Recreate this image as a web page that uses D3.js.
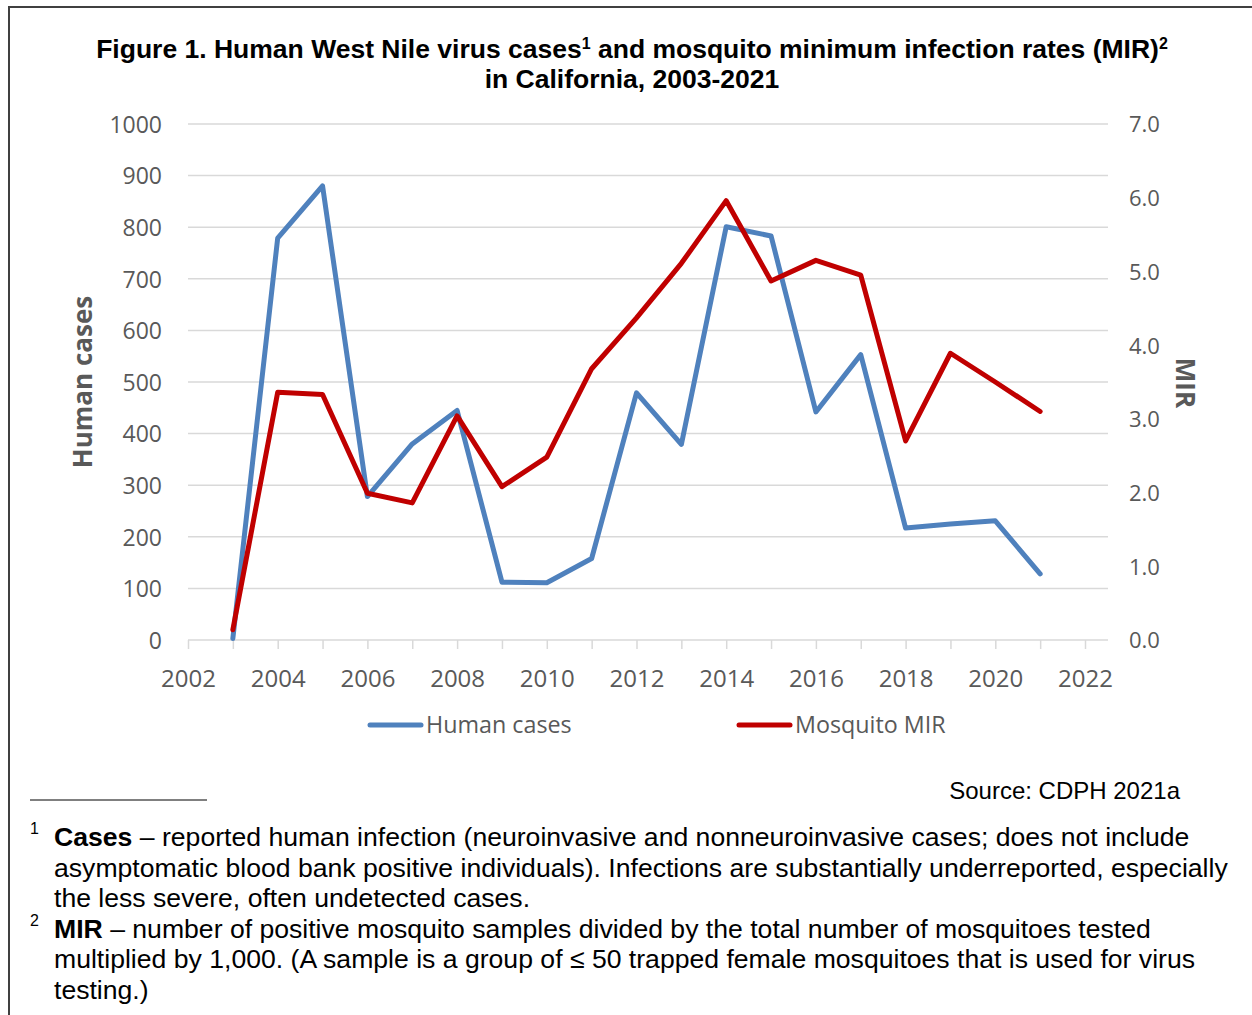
<!DOCTYPE html>
<html><head><meta charset="utf-8">
<script src="https://cdn.jsdelivr.net/npm/d3@7"></script>
<style>body{margin:0;background:#fff;} svg{display:block;}</style>
</head><body>
<script>
const years = [2003,2004,2005,2006,2007,2008,2009,2010,2011,2012,2013,2014,2015,2016,2017,2018,2019,2020,2021];
const humanCases = [3,779,880,278,380,445,112,111,158,479,379,801,783,442,553,217,225,231,128];
const mosquitoMIR = [0.14,3.36,3.33,1.99,1.86,3.04,2.08,2.48,3.68,4.37,5.11,5.96,4.87,5.15,4.95,2.70,3.89,3.50,3.10];
const leftTicks = [0,100,200,300,400,500,600,700,800,900,1000];
const rightTicks = [0,1,2,3,4,5,6,7];
const xTicks = [2002,2004,2006,2008,2010,2012,2014,2016,2018,2020,2022];
const seriesNames = ["Human cases","Mosquito MIR"];
const colors = ["#4F81BD","#C00000"];

const W=1252,H=1015;
const svg=d3.select("body").append("svg").attr("width",W).attr("height",H);
const gray="#595959";
const tickFont="'Open Sans', sans-serif";
const af="'Liberation Sans', Arial, sans-serif";

// frame
svg.append("path").attr("d","M9,1015 V7 H1252").attr("fill","none").attr("stroke","#404040").attr("stroke-width",2);

// title
const title=svg.append("text").attr("x",632).attr("y",58).attr("text-anchor","middle")
 .attr("font-family",af).attr("font-weight","bold").attr("font-size",26.5).attr("fill","#000");
title.append("tspan").text("Figure 1. Human West Nile virus cases");
title.append("tspan").attr("font-size",16).attr("dy",-9).text("1");
title.append("tspan").attr("dy",9).text(" and mosquito minimum infection rates (MIR)");
title.append("tspan").attr("font-size",16).attr("dy",-9).text("2");
svg.append("text").attr("x",632).attr("y",88).attr("text-anchor","middle")
 .attr("font-family",af).attr("font-weight","bold").attr("font-size",26.5).text("in California, 2003-2021");

const x=d3.scaleLinear().domain([2002,2022]).range([188,1085]);
const yL=d3.scaleLinear().domain([0,1000]).range([640,124]);
const yR=d3.scaleLinear().domain([0,7]).range([640,124]);

// gridlines
svg.append("g").selectAll("line").data(leftTicks).join("line")
 .attr("x1",188).attr("x2",1108).attr("y1",d=>yL(d)).attr("y2",d=>yL(d))
 .attr("stroke","#d9d9d9").attr("stroke-width",1.5);

// x axis
const xAxis=svg.append("g").attr("transform","translate(0,640)")
 .call(d3.axisBottom(x).tickValues(d3.range(2002,2023)).tickSize(9).tickFormat(d=>xTicks.includes(d)?d:""));
xAxis.select(".domain").remove();
xAxis.selectAll(".tick line").attr("stroke","#d9d9d9").attr("stroke-width",1.5);
xAxis.selectAll(".tick text").attr("font-family",tickFont).attr("font-size",24).attr("fill",gray).attr("dy",0).attr("y",47);

// left axis
const lAxis=svg.append("g").attr("transform","translate(162,0)")
 .call(d3.axisLeft(yL).tickValues(leftTicks).tickSize(0).tickPadding(0).tickFormat(d3.format("d")));
lAxis.select(".domain").remove();
lAxis.selectAll(".tick text").attr("font-family",tickFont).attr("font-size",23).attr("fill",gray).attr("dy","0.36em");

// right axis
const rAxis=svg.append("g").attr("transform","translate(1129,0)")
 .call(d3.axisRight(yR).tickValues(rightTicks).tickSize(0).tickPadding(0).tickFormat(d3.format(".1f")));
rAxis.select(".domain").remove();
rAxis.selectAll(".tick text").attr("font-family",tickFont).attr("font-size",22).attr("fill",gray).attr("dy","0.36em");

// axis titles
svg.append("text").attr("transform","translate(92,382) rotate(-90)").attr("text-anchor","middle")
 .attr("font-family",tickFont).attr("font-weight","bold").attr("font-size",26).attr("fill",gray).text("Human cases");
svg.append("text").attr("transform","translate(1176,383) rotate(90)").attr("text-anchor","middle")
 .attr("font-family",tickFont).attr("font-weight","bold").attr("font-size",26).attr("fill",gray).text("MIR");

// lines
const lineL=d3.line().x((d,i)=>x(years[i])).y(d=>yL(d));
const lineR=d3.line().x((d,i)=>x(years[i])).y(d=>yR(d));
svg.append("path").datum(humanCases).attr("d",lineL).attr("fill","none").attr("stroke",colors[0]).attr("stroke-width",5).attr("stroke-linejoin","round").attr("stroke-linecap","round");
svg.append("path").datum(mosquitoMIR).attr("d",lineR).attr("fill","none").attr("stroke",colors[1]).attr("stroke-width",5).attr("stroke-linejoin","round").attr("stroke-linecap","round");

// legend
const legX=[370,739];
seriesNames.forEach((n,i)=>{
  svg.append("line").attr("x1",legX[i]).attr("x2",legX[i]+51).attr("y1",725).attr("y2",725)
   .attr("stroke",colors[i]).attr("stroke-width",5).attr("stroke-linecap","round");
  svg.append("text").attr("x",legX[i]+56).attr("y",725).attr("dy","0.36em").attr("font-family",tickFont)
   .attr("font-size",23.3).attr("fill",gray).text(n);
});

// source and footnotes
svg.append("text").attr("x",1180).attr("y",799).attr("text-anchor","end").attr("font-family",af).attr("font-size",24).text("Source: CDPH 2021a");
svg.append("line").attr("x1",30).attr("x2",207).attr("y1",800).attr("y2",800).attr("stroke","#000").attr("stroke-width",1);

const fnLines=[
 {sup:"1",bold:"Cases",rest:" – reported human infection (neuroinvasive and nonneuroinvasive cases; does not include",y:846},
 {text:"asymptomatic blood bank positive individuals). Infections are substantially underreported, especially",y:877},
 {text:"the less severe, often undetected cases.",y:907},
 {sup:"2",bold:"MIR",rest:" – number of positive mosquito samples divided by the total number of mosquitoes tested",y:938},
 {text:"multiplied by 1,000. (A sample is a group of ≤ 50 trapped female mosquitoes that is used for virus",y:968},
 {text:"testing.)",y:999}
];
fnLines.forEach(l=>{
  if(l.sup) svg.append("text").attr("x",30).attr("y",l.y-12).attr("font-family",af).attr("font-size",16).text(l.sup);
  const t=svg.append("text").attr("x",54).attr("y",l.y).attr("font-family",af).attr("font-size",26.6).attr("fill","#000");
  if(l.bold){ t.append("tspan").attr("font-weight","bold").text(l.bold); t.append("tspan").text(l.rest);}
  else t.text(l.text);
});
</script>
</body></html>
